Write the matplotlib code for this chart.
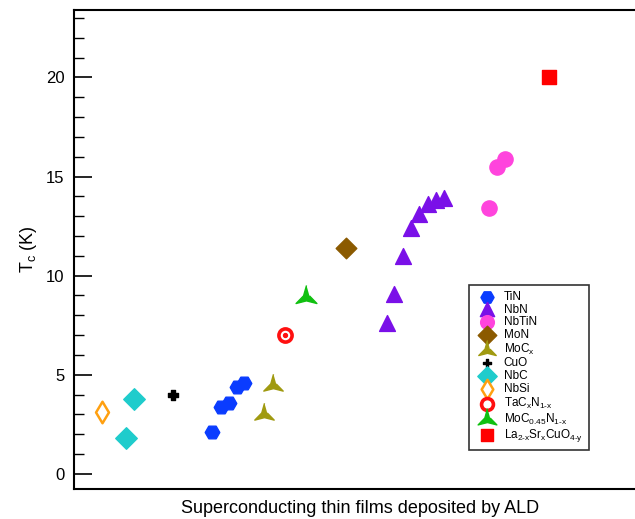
import matplotlib
matplotlib.use("Agg")
import matplotlib.pyplot as plt
import numpy as np
from matplotlib.ticker import MultipleLocator

plt.rcParams['font.family'] = ['Liberation Sans', 'DejaVu Sans']
plt.rcParams['mathtext.fontset'] = 'custom'
plt.rcParams['mathtext.rm'] = 'Liberation Sans'
plt.rcParams['mathtext.it'] = 'Liberation Sans'

# x is only an ordering position along the axis (no units), y is Tc in K
tin_x = [212, 221, 229, 237, 244]
tin_y = [2.1, 3.4, 3.6, 4.4, 4.6]
nbn_x = [387, 394, 403, 411, 419, 428, 436, 444]
nbn_y = [7.6, 9.1, 11.0, 12.4, 13.1, 13.6, 13.8, 13.9]
nbtin_x = [489, 497, 505]
nbtin_y = [13.4, 15.5, 15.9]
mon_x = [346]
mon_y = [11.4]
mocx_x = [264, 273]
mocx_y = [3.0, 4.5]
cuo_x = [173]
cuo_y = [4.0]
nbc_x = [126, 134]
nbc_y = [1.8, 3.8]
nbsi_x = [102]
nbsi_y = [3.1]
tacn_x = [285]
tacn_y = [7.0]
mocn_x = [306]
mocn_y = [8.9]
lsco_x = [549]
lsco_y = [20.0]

# concave three-pointed star marker
ang = np.deg2rad(np.arange(90, 450, 60))
rad = np.array([1.0, 0.28] * 3)
star3 = list(zip(rad * np.cos(ang), rad * np.sin(ang)))

fig = plt.figure(figsize=(6.35, 5.19), dpi=100)
ax = fig.add_axes([0.1165, 0.0578, 0.9, 0.923])

ax.scatter(tin_x, tin_y, marker='H', s=110, color='#0a3cff', label='TiN', zorder=3)
ax.scatter(nbn_x, nbn_y, marker='^', s=130, color='#7a10e8', label='NbN', zorder=3)
ax.scatter(nbtin_x, nbtin_y, marker='o', s=120, color='#ff44dd', label='NbTiN', zorder=3)
ax.scatter(mon_x, mon_y, marker='D', s=110, color='#8b5a00', label='MoN', zorder=3)
ax.scatter(mocx_x, mocx_y, marker=star3, s=260, color='#a09a10', label='MoC$_\\mathregular{x}$', zorder=3)
ax.scatter(cuo_x, cuo_y, marker='P', s=45, color='black', label='CuO', zorder=3)
ax.scatter(nbc_x, nbc_y, marker='D', s=120, color='#1fcccc', label='NbC', zorder=3)
ax.scatter(nbsi_x, nbsi_y, marker='d', s=120, facecolor='white', edgecolor='#ffa010',
           linewidth=1.8, label='NbSi', zorder=3)
ax.scatter(tacn_x, tacn_y, marker='o', s=90, facecolor='white', edgecolor='#ff1010',
           linewidth=2.6, label='TaC$_\\mathregular{x}$N$_\\mathregular{1\\text{-}x}$', zorder=3)
ax.scatter(tacn_x, tacn_y, marker='o', s=8, color='#ff1010', zorder=4)
ax.scatter(mocn_x, mocn_y, marker=star3, s=300, color='#10c010',
           label='MoC$_\\mathregular{0.45}$N$_\\mathregular{1\\text{-}x}$', zorder=3)
ax.scatter(lsco_x, lsco_y, marker='s', s=100, color='#ff0000',
           label='La$_\\mathregular{2\\text{-}x}$Sr$_\\mathregular{x}$CuO$_\\mathregular{4\\text{-}y}$', zorder=3)

ax.set_xlim(74, 645)
ax.set_ylim(-0.76, 23.4)
ax.set_xticks([])
ax.yaxis.set_major_locator(MultipleLocator(5))
ax.yaxis.set_minor_locator(MultipleLocator(1))
ax.tick_params(axis='y', which='major', direction='in', length=13, width=1.2, labelsize=12, pad=7)
ax.tick_params(axis='y', which='minor', direction='in', length=7, width=1.0)
for sp in ax.spines.values():
    sp.set_linewidth(1.5)

ax.set_ylabel('T$_\\mathregular{c}$ (K)', fontsize=13, labelpad=5)
ax.set_xlabel('Superconducting thin films deposited by ALD', fontsize=13, labelpad=8)

leg = ax.legend(loc='upper left', bbox_to_anchor=(0.692, 0.426), fontsize=8.5, frameon=True,
                fancybox=False, edgecolor='black', handletextpad=0.4, labelspacing=0.06,
                borderpad=0.5, markerscale=0.9, borderaxespad=0)
leg.get_frame().set_linewidth(1.2)

fig.savefig('out.png', dpi=100)
